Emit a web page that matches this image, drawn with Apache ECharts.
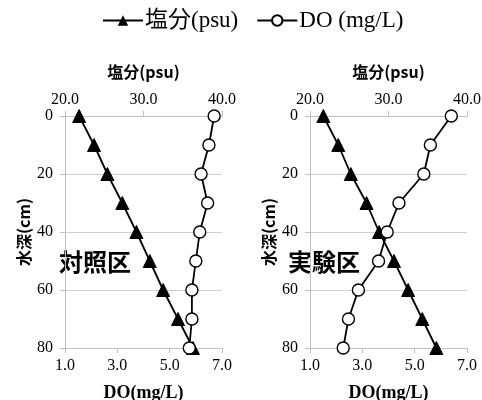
<!DOCTYPE html>
<html>
<head>
<meta charset="utf-8">
<script src="https://cdn.jsdelivr.net/npm/echarts@6/dist/echarts.min.js"></script>
<style>
  html, body { margin: 0; padding: 0; background: #fff; }
  #chart { width: 482px; height: 400px; }
</style>
</head>
<body>
<div id="chart"></div>
<script>
// Depth profile of salinity and dissolved oxygen at two sites
const depths = [0, 10, 20, 30, 40, 50, 60, 70, 80];
const salinityControl = [21.8, 23.7, 25.4, 27.3, 29.1, 30.8, 32.5, 34.4, 36.3];
const doControl = [6.7, 6.5, 6.2, 6.45, 6.15, 6.0, 5.85, 5.85, 5.75];
const salinityTest = [21.7, 23.6, 25.2, 27.2, 28.8, 30.7, 32.5, 34.3, 36.1];
const doTest = [6.4, 5.6, 5.35, 4.4, 3.95, 3.62, 2.85, 2.47, 2.27];
const panelLabels = ['対照区', '実験区'];
const salinityName = '塩分(psu)';
const doName = 'DO (mg/L)';
const salinityAxisName = '塩分(psu)';
const doAxisName = 'DO(mg/L)';
const depthAxisName = '水深(cm)';

const SERIF = "'Liberation Serif', 'Times New Roman', 'Noto Sans CJK JP', serif";
const GOTHIC = "'Noto Sans CJK JP', 'Noto Sans', sans-serif";

const pairs = (xs) => xs.map((x, i) => [x, depths[i]]);

const gridLefts = [65, 310];
const grids = gridLefts.map(l => ({
  left: l, top: 116, width: 157, height: 232,
  containLabel: false, outerBoundsMode: 'none'
}));

const tickLabel = { color: '#000', fontFamily: SERIF, fontSize: 16 };
const axisGray = { lineStyle: { color: '#bfbfbf', width: 1 } };

const xAxes = [];
const yAxes = [];
grids.forEach((g, i) => {
  xAxes.push({
    type: 'value', gridIndex: i, position: 'top',
    min: 20, max: 40, interval: 10,
    name: salinityAxisName, nameLocation: 'middle', nameGap: 36,
    nameTextStyle: { fontFamily: GOTHIC, fontWeight: 'bold', fontSize: 16, color: '#000' },
    axisLine: { show: true, ...axisGray },
    axisTick: { show: true, length: 5, ...axisGray },
    axisLabel: { ...tickLabel, margin: 8, formatter: v => v.toFixed(1) },
    splitLine: { show: false }
  });
  xAxes.push({
    type: 'value', gridIndex: i, position: 'bottom',
    min: 1, max: 7, interval: 2,
    name: doAxisName, nameLocation: 'middle', nameGap: 36,
    nameTextStyle: { fontFamily: SERIF, fontWeight: 'bold', fontSize: 18, color: '#000' },
    axisLine: { show: true, ...axisGray },
    axisTick: { show: true, length: 5, ...axisGray },
    axisLabel: { ...tickLabel, margin: 10, formatter: v => v.toFixed(1) },
    splitLine: { show: false }
  });
  yAxes.push({
    type: 'value', gridIndex: i, inverse: true,
    min: 0, max: 80, interval: 20,
    axisLine: { show: true, ...axisGray },
    axisTick: { show: true, length: 5, ...axisGray },
    axisLabel: { ...tickLabel, margin: 12 },
    splitLine: { show: true, lineStyle: { color: '#d0d0d0', width: 1 } }
  });
});

const salinitySeries = (data, i) => ({
  name: salinityName, type: 'line', xAxisIndex: i * 2, yAxisIndex: i,
  data: pairs(data), symbol: 'triangle', symbolSize: 13,
  lineStyle: { color: '#000', width: 1.8 },
  itemStyle: { color: '#000', borderColor: '#000' },
  z: 2, animation: false
});
const doSeries = (data, i) => ({
  name: doName, type: 'line', xAxisIndex: i * 2 + 1, yAxisIndex: i,
  data: pairs(data), symbol: 'circle', symbolSize: 12,
  lineStyle: { color: '#000', width: 1.8 },
  itemStyle: { color: '#fff', borderColor: '#000', borderWidth: 1.4 },
  z: 3, animation: false
});

// Panel captions and rotated depth-axis titles
const captions = panelLabels.map((t, i) => ({
  type: 'text', left: [59, 288][i], top: 250,
  style: { text: t, fontFamily: GOTHIC, fontWeight: 'bold', fontSize: 24, fill: '#000' }
}));
const depthTitles = gridLefts.map(l => ({
  type: 'text', x: l - 41, y: 232, rotation: Math.PI / 2,
  style: {
    text: depthAxisName, fontFamily: GOTHIC, fontWeight: 'bold', fontSize: 16, fill: '#000',
    align: 'center', verticalAlign: 'middle'
  }
}));

const chart = echarts.init(document.getElementById('chart'));
chart.setOption({
  animation: false,
  legend: {
    left: 97, top: 4,
    data: [salinityName, doName],
    itemWidth: 40, itemHeight: 13, itemGap: 18,
    textStyle: { fontFamily: SERIF, fontSize: 23, color: '#000', padding: [0, 0, 0, -3] }
  },
  grid: grids,
  xAxis: xAxes,
  yAxis: yAxes,
  series: [
    salinitySeries(salinityControl, 0),
    doSeries(doControl, 0),
    salinitySeries(salinityTest, 1),
    doSeries(doTest, 1)
  ],
  graphic: captions.concat(depthTitles)
});
</script>
</body>
</html>
